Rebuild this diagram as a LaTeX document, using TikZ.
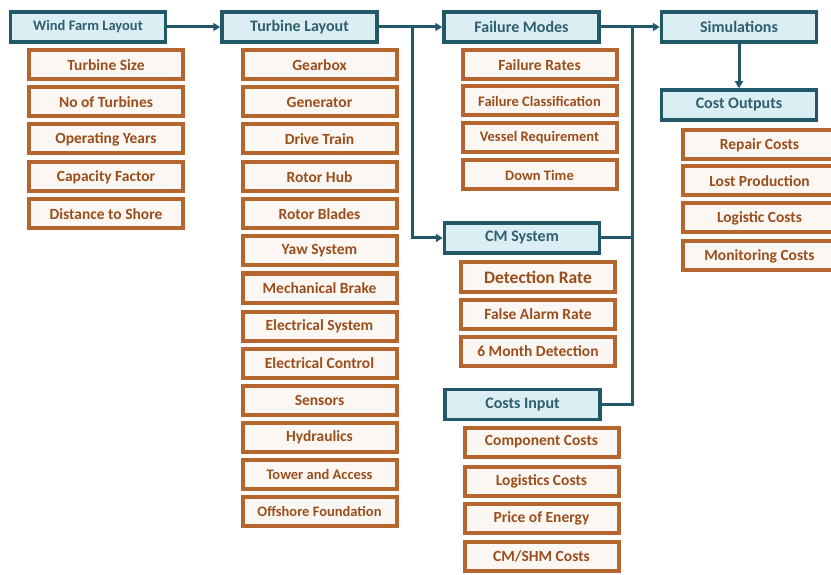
\documentclass[tikz,border=0pt]{standalone}
\usepackage{fontspec}
\setmainfont{Carlito}
\usetikzlibrary{arrows.meta}
\definecolor{tealline}{HTML}{215968}
\definecolor{hdrfill}{HTML}{DAEEF3}
\definecolor{hdrtext}{HTML}{2F5F6F}
\definecolor{orline}{HTML}{B5662E}
\definecolor{orfill}{HTML}{FDF7F3}
\definecolor{ortext}{HTML}{9A4E1B}
\begin{document}
\begin{tikzpicture}[x=1pt,y=-1pt,
  hdr/.style={draw=tealline, fill=hdrfill, line width=3.5pt, minimum width=155pt, minimum height=30pt, inner sep=0pt, text=hdrtext, font=\bfseries\fontsize{16}{18}\selectfont},
  item/.style={draw=orline, fill=orfill, line width=4pt, minimum width=154pt, minimum height=29pt, inner sep=0pt, text=ortext, font=\bfseries\fontsize{15.5}{17}\selectfont},
  small/.style={font=\bfseries\fontsize{14.5}{16}\selectfont},
  big/.style={font=\bfseries\fontsize{17.5}{19}\selectfont},
  conn/.style={draw=tealline, line width=3pt},
  arr/.style={conn, -{Triangle[length=7pt,width=8pt]}}]
\useasboundingbox (0,0) rectangle (831,575);
% headers
\node[hdr, font=\bfseries\fontsize{14.5}{16}\selectfont] (wf) at (88,27) {Wind Farm Layout};
\node[hdr] (tl) at (299.5,27) {Turbine Layout};
\node[hdr] (fm) at (521.5,27) {Failure Modes};
\node[hdr] (sim) at (739,27) {Simulations};
\node[hdr] (co) at (739,105) {Cost Outputs};
\node[hdr] (cm) at (522,238) {CM System};
\node[hdr] (ci) at (522.5,404.5) {Costs Input};
% wind farm items
\node[item] (w1) at (106,65) {Turbine Size};
\node[item] (w2) at (106,102) {No of Turbines};
\node[item] (w3) at (106,139) {Operating Years};
\node[item] (w4) at (106,177) {Capacity Factor};
\node[item] (w5) at (106,214) {Distance to Shore};
% turbine items
\node[item] (t1) at (319.5,65) {Gearbox};
\node[item] (t2) at (319.5,102) {Generator};
\node[item] (t3) at (319.5,139) {Drive Train};
\node[item] (t4) at (319.5,177) {Rotor Hub};
\node[item] (t5) at (319.5,214) {Rotor Blades};
\node[item] (t6) at (319.5,251) {Yaw System};
\node[item] (t7) at (319.5,288) {Mechanical Brake};
\node[item] (t8) at (319.5,326) {Electrical System};
\node[item] (t9) at (319.5,363) {Electrical Control};
\node[item] (t10) at (319.5,400) {Sensors};
\node[item] (t11) at (319.5,437) {Hydraulics};
\node[item, small] (t12) at (319.5,474) {Tower and Access};
\node[item, small] (t13) at (319.5,511) {Offshore Foundation};
% failure items
\node[item] (f1) at (539.5,65) {Failure Rates};
\node[item, small] (f2) at (539.5,101) {Failure Classification};
\node[item, small] (f3) at (539.5,138) {Vessel Requirement};
\node[item, small] (f4) at (539.5,175) {Down Time};
% CM items
\node[item, big] (c1) at (538,277) {Detection Rate};
\node[item] (c2) at (538,314) {False Alarm Rate};
\node[item] (c3) at (538,351) {6 Month Detection};
% cost inputs
\node[item] (i1) at (541.5,442) {Component Costs};
\node[item] (i2) at (541.5,481) {Logistics Costs};
\node[item] (i3) at (541.5,518) {Price of Energy};
\node[item] (i4) at (541.5,556) {CM/SHM Costs};
% cost outputs
\node[item] (o1) at (759.5,145) {Repair Costs};
\node[item] (o2) at (759.5,181) {Lost Production};
\node[item] (o3) at (759.5,218) {Logistic Costs};
\node[item] (o4) at (759.5,256) {Monitoring Costs};
% connectors
\coordinate (j1) at (412,27);
\coordinate (j2) at (632,27);
\draw[arr] (wf) -- (tl);
\draw[arr] (tl) -- (fm);
\draw[arr] (j1) |- (cm);
\draw[arr] (fm) -- (sim);
\draw[conn] (cm.east) -| (j2);
\draw[conn] (ci.east) -| (j2);
\draw[arr] (sim) -- (co);
\end{tikzpicture}
\end{document}
